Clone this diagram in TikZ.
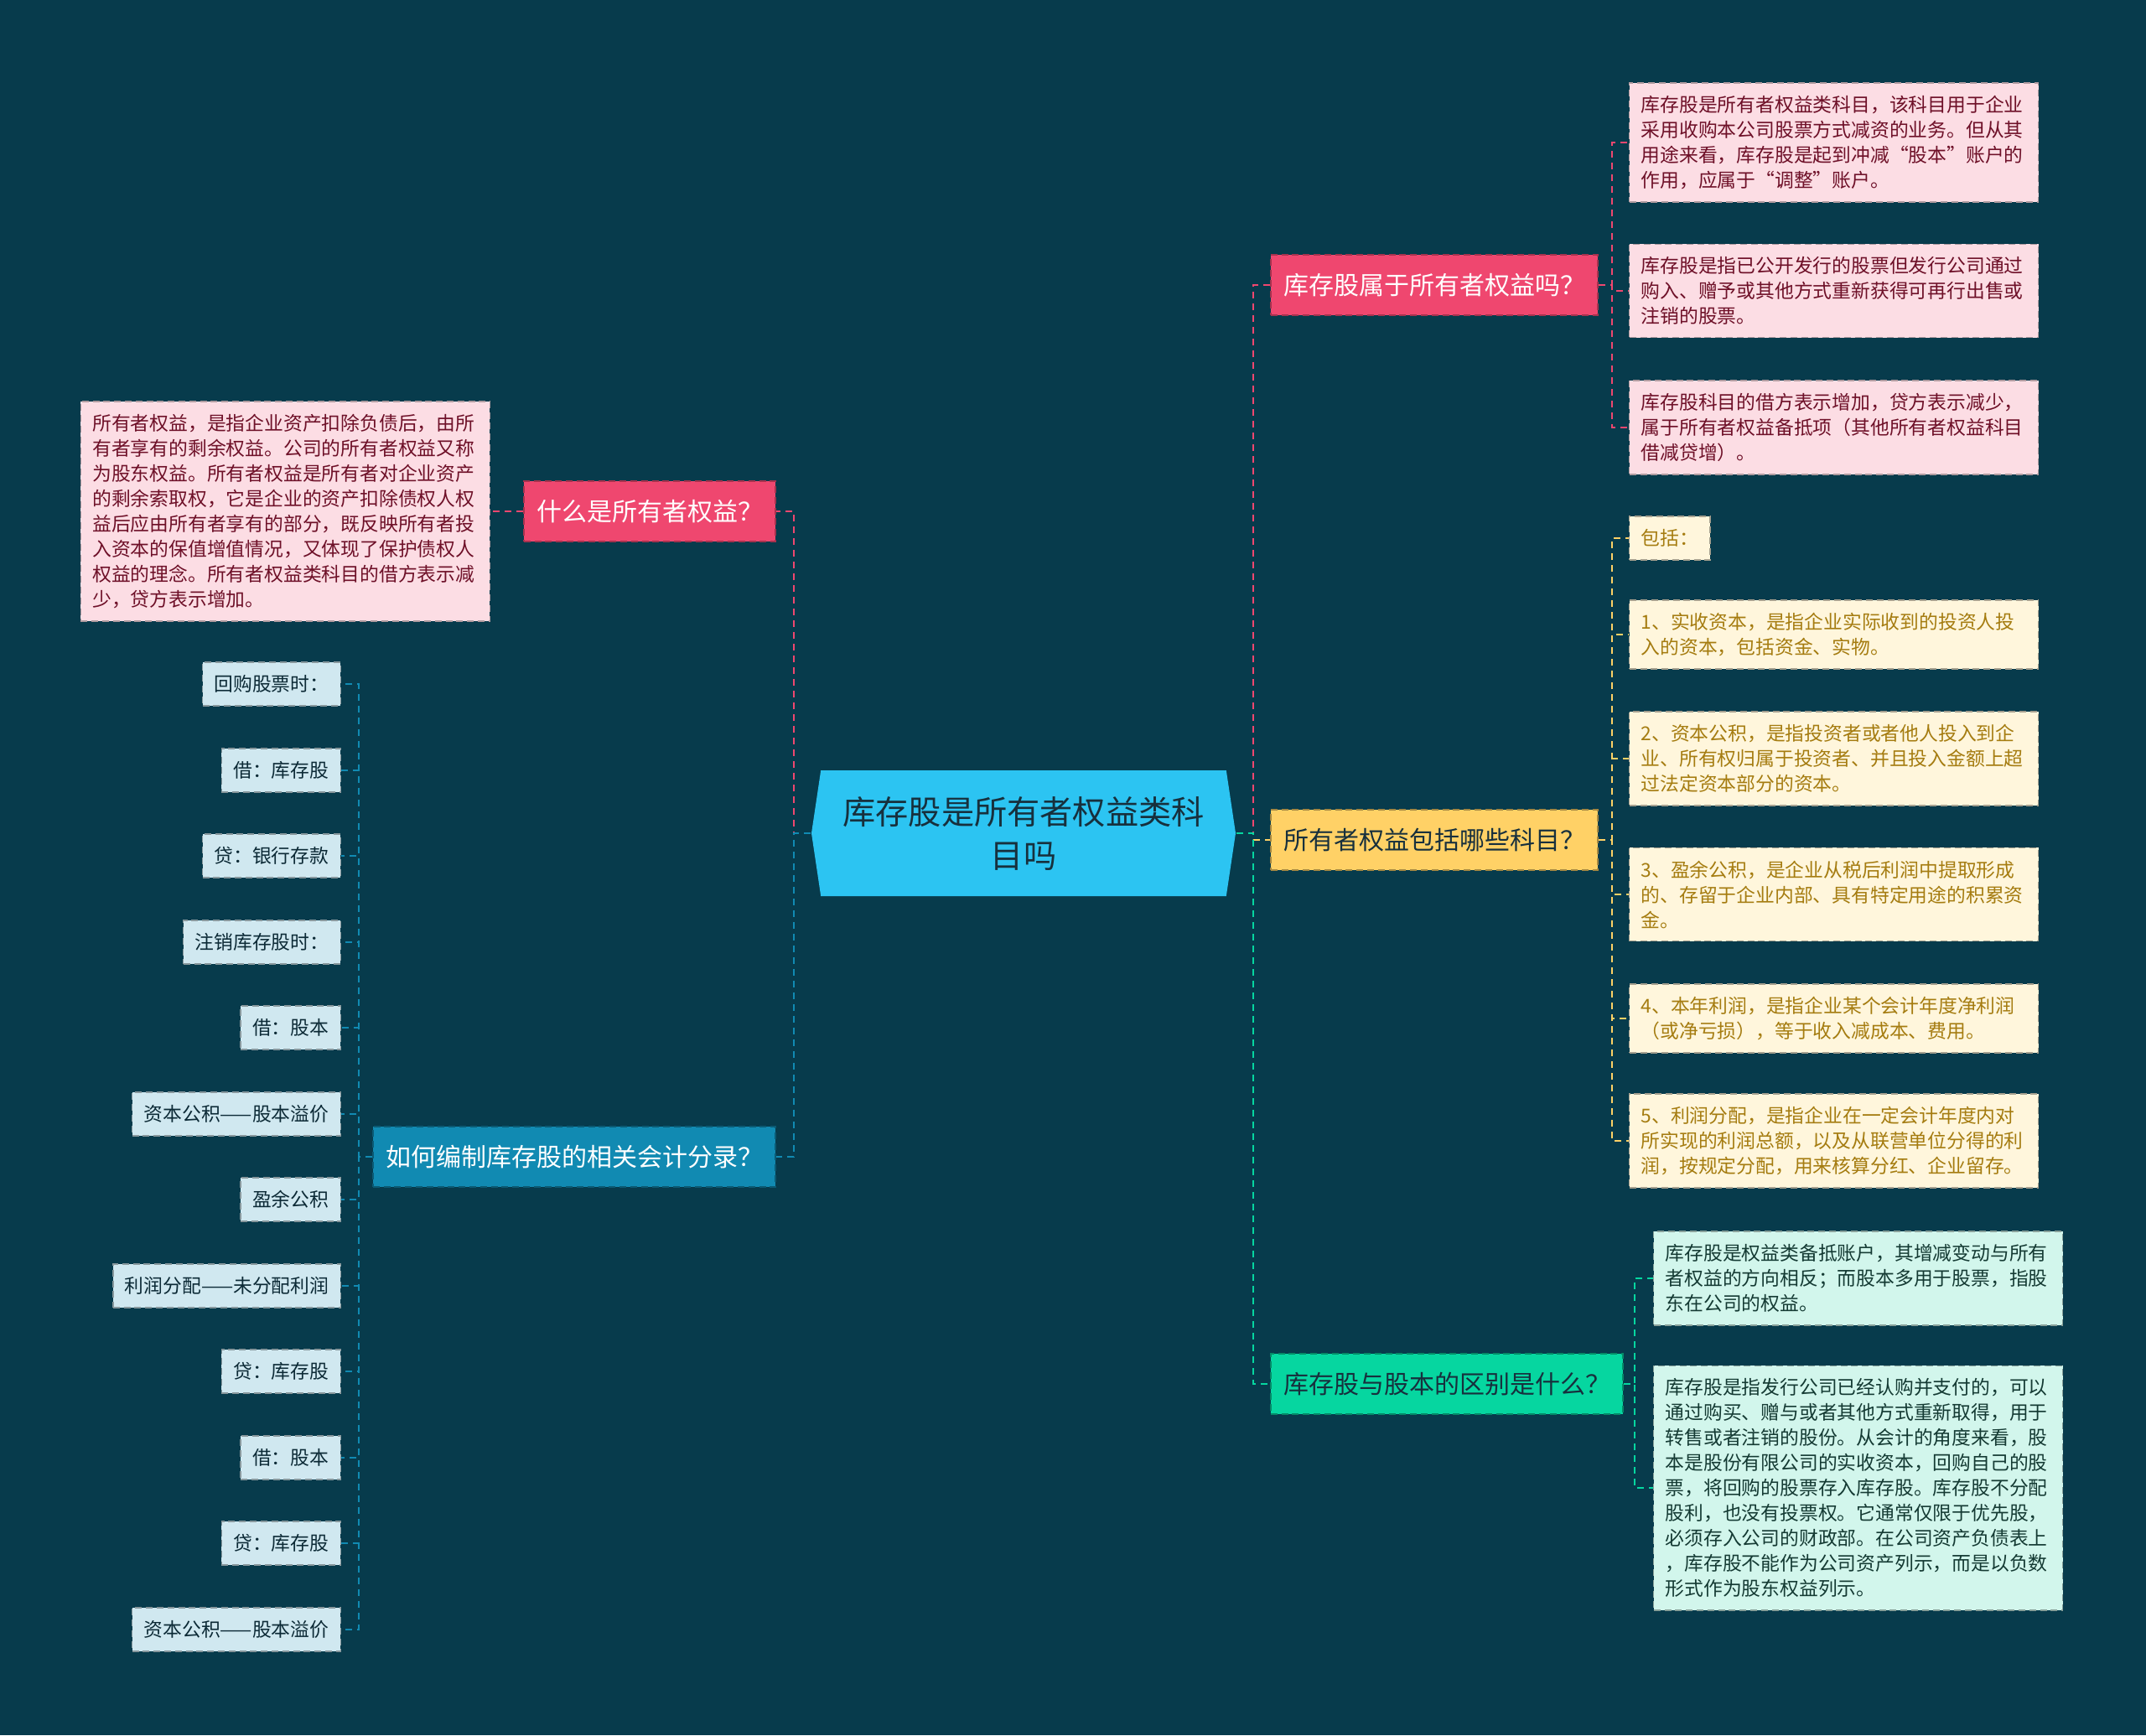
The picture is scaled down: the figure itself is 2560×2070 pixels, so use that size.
\documentclass[tikz,border=0pt]{standalone}
\usepackage{xcolor}
\usepackage{fontspec}
\setmainfont{Noto Sans CJK SC}
\usepackage{tikz}
\usetikzlibrary{shapes.symbols}

\definecolor{bgdark}{HTML}{073B4C}
\definecolor{rootblue}{HTML}{2CC4F2}
\definecolor{roottext}{HTML}{17303D}
\definecolor{qpink}{HTML}{EF476F}
\definecolor{qgold}{HTML}{FFD166}
\definecolor{qmint}{HTML}{06D6A0}
\definecolor{qblue}{HTML}{118AB2}
\definecolor{lpink}{HTML}{FCDDE4}
\definecolor{lgold}{HTML}{FFF6DC}
\definecolor{lmint}{HTML}{D2F6EC}
\definecolor{lblue}{HTML}{D0E8F0}
\definecolor{tpink}{HTML}{6E1028}
\definecolor{tgold}{HTML}{A57C10}
\definecolor{tmint}{HTML}{143A33}
\definecolor{tblue}{HTML}{0C2A36}

\tikzset{
  root/.style={signal, signal to=east and west, signal pointer angle=163,
    fill=rootblue, text=roottext, minimum width=126.5pt, minimum height=37.5pt,
    inner sep=0pt, align=center, font=\fontsize{9.8pt}{13pt}\selectfont},
  branch/.style={draw, dash pattern=on 2pt off 1.2pt, line width=0.4pt,
    minimum height=18pt, inner xsep=3.8pt, font=\fontsize{7.5pt}{9pt}\selectfont},
  pinkq/.style={branch, fill=qpink, draw=qpink!70!black, text=white},
  goldq/.style={branch, fill=qgold, draw=qgold!65!black, text=roottext},
  mintq/.style={branch, fill=qmint, draw=qmint!65!black, text=roottext},
  blueq/.style={branch, fill=qblue, draw=qblue!65!black, text=white},
  leaf/.style={draw, dash pattern=on 2pt off 1.2pt, line width=0.35pt,
    align=left, text width=115pt, inner xsep=3.5pt, inner ysep=3.8pt,
    font=\fontsize{5.7pt}{7.5pt}\selectfont},
  tag/.style={draw, dash pattern=on 2pt off 1.2pt, line width=0.35pt,
    minimum height=13pt, inner xsep=3.5pt, font=\fontsize{5.7pt}{7.5pt}\selectfont},
  pinkleaf/.style={leaf, fill=lpink, draw=lpink!70!black, text=tpink},
  goldleaf/.style={leaf, fill=lgold, draw=lgold!65!black, text=tgold},
  goldtag/.style={tag, fill=lgold, draw=lgold!65!black, text=tgold},
  mintleaf/.style={leaf, fill=lmint, draw=lmint!65!black, text=tmint},
  bluetag/.style={tag, fill=lblue, draw=lblue!65!black, text=tblue},
  link/.style={dash pattern=on 2pt off 1.5pt, line width=0.5pt}
}

\begin{document}
\begin{tikzpicture}[x=0.25pt, y=-0.25pt]
    \useasboundingbox (0,0) rectangle (2560,2070);
    \fill[bgdark] (0,0) rectangle (2560,2070);

    \node[root] (root) at (1221,994) {库存股是所有者权益类科\\目吗};

    \node[pinkq, anchor=west] (own) at (1515,340) {库存股属于所有者权益吗？};
    \node[goldq, anchor=west] (incl) at (1515,1002) {所有者权益包括哪些科目？};
    \node[mintq, anchor=west] (diff) at (1515,1651) {库存股与股本的区别是什么？};
    \node[pinkq, anchor=east] (what) at (926,610) {什么是所有者权益？};
    \node[blueq, anchor=east] (entry) at (926,1380) {如何编制库存股的相关会计分录？};

    \node[pinkleaf, anchor=west] (own1) at (1943,170) {库存股是所有者权益类科目，该科目用于企业\\采用收购本公司股票方式减资的业务。但从其\\用途来看，库存股是起到冲减“股本”账户的\\作用，应属于“调整”账户。};
    \node[pinkleaf, anchor=west] (own2) at (1943,347) {库存股是指已公开发行的股票但发行公司通过\\购入、赠予或其他方式重新获得可再行出售或\\注销的股票。};
    \node[pinkleaf, anchor=west] (own3) at (1943,510) {库存股科目的借方表示增加，贷方表示减少，\\属于所有者权益备抵项（其他所有者权益科目\\借减贷增）。};

    \node[goldtag, anchor=west] (incl0) at (1943,642) {包括：};
    \node[goldleaf, anchor=west] (incl1) at (1943,757) {1、实收资本，是指企业实际收到的投资人投\\入的资本，包括资金、实物。};
    \node[goldleaf, anchor=west] (incl2) at (1943,905) {2、资本公积，是指投资者或者他人投入到企\\业、所有权归属于投资者、并且投入金额上超\\过法定资本部分的资本。};
    \node[goldleaf, anchor=west] (incl3) at (1943,1067) {3、盈余公积，是企业从税后利润中提取形成\\的、存留于企业内部、具有特定用途的积累资\\金。};
    \node[goldleaf, anchor=west] (incl4) at (1943,1215) {4、本年利润，是指企业某个会计年度净利润\\（或净亏损），等于收入减成本、费用。};
    \node[goldleaf, anchor=west] (incl5) at (1943,1361) {5、利润分配，是指企业在一定会计年度内对\\所实现的利润总额，以及从联营单位分得的利\\润，按规定分配，用来核算分红、企业留存。};

    \node[mintleaf, anchor=west] (diff1) at (1972,1525) {库存股是权益类备抵账户，其增减变动与所有\\者权益的方向相反；而股本多用于股票，指股\\东在公司的权益。};
    \node[mintleaf, anchor=west] (diff2) at (1972,1775) {库存股是指发行公司已经认购并支付的，可以\\通过购买、赠与或者其他方式重新取得，用于\\转售或者注销的股份。从会计的角度来看，股\\本是股份有限公司的实收资本，回购自己的股\\票，将回购的股票存入库存股。库存股不分配\\股利，也没有投票权。它通常仅限于优先股，\\必须存入公司的财政部。在公司资产负债表上\\，库存股不能作为公司资产列示，而是以负数\\形式作为股东权益列示。};

    \node[pinkleaf, anchor=east] (what1) at (585,610) {所有者权益，是指企业资产扣除负债后，由所\\有者享有的剩余权益。公司的所有者权益又称\\为股东权益。所有者权益是所有者对企业资产\\的剩余索取权，它是企业的资产扣除债权人权\\益后应由所有者享有的部分，既反映所有者投\\入资本的保值增值情况，又体现了保护债权人\\权益的理念。所有者权益类科目的借方表示减\\少，贷方表示增加。};

    \node[bluetag, anchor=east] (e1) at (407,816) {回购股票时：};
    \node[bluetag, anchor=east] (e2) at (407,919) {借：库存股};
    \node[bluetag, anchor=east] (e3) at (407,1021) {贷：银行存款};
    \node[bluetag, anchor=east] (e4) at (407,1124) {注销库存股时：};
    \node[bluetag, anchor=east] (e5) at (407,1226) {借：股本};
    \node[bluetag, anchor=east] (e6) at (407,1329) {资本公积——股本溢价};
    \node[bluetag, anchor=east] (e7) at (407,1431) {盈余公积};
    \node[bluetag, anchor=east] (e8) at (407,1534) {利润分配——未分配利润};
    \node[bluetag, anchor=east] (e9) at (407,1636) {贷：库存股};
    \node[bluetag, anchor=east] (e10) at (407,1739) {借：股本};
    \node[bluetag, anchor=east] (e11) at (407,1841) {贷：库存股};
    \node[bluetag, anchor=east] (e12) at (407,1944) {资本公积——股本溢价};

    \coordinate (rj) at (1495,994);
    \coordinate (lj) at (947,994);
    \coordinate (ownj) at (1923,340);
    \coordinate (inclj) at (1923,1002);
    \coordinate (diffj) at (1950,1651);
    \coordinate (entryj) at (428,1380);

    \draw[link, qpink] (root.east) -- (rj) |- (own.west);
    \draw[link, qgold] (root.east) -- (rj) |- (incl.west);
    \draw[link, qmint] (root.east) -- (rj) |- (diff.west);
    \draw[link, qpink] (root.west) -- (lj) |- (what.east);
    \draw[link, qblue] (root.west) -- (lj) |- (entry.east);

    \draw[link, qpink] (own.east) -- (ownj) |- (own1.west);
    \draw[link, qpink] (own.east) -- (ownj) |- (own2.west);
    \draw[link, qpink] (own.east) -- (ownj) |- (own3.west);

    \draw[link, qgold] (incl.east) -- (inclj) |- (incl0.west);
    \draw[link, qgold] (incl.east) -- (inclj) |- (incl1.west);
    \draw[link, qgold] (incl.east) -- (inclj) |- (incl2.west);
    \draw[link, qgold] (incl.east) -- (inclj) |- (incl3.west);
    \draw[link, qgold] (incl.east) -- (inclj) |- (incl4.west);
    \draw[link, qgold] (incl.east) -- (inclj) |- (incl5.west);

    \draw[link, qmint] (diff.east) -- (diffj) |- (diff1.west);
    \draw[link, qmint] (diff.east) -- (diffj) |- (diff2.west);

    \draw[link, qpink] (what.west) -- (what1.east);

    \draw[link, qblue] (entry.west) -- (entryj) |- (e1.east);
    \draw[link, qblue] (entry.west) -- (entryj) |- (e2.east);
    \draw[link, qblue] (entry.west) -- (entryj) |- (e3.east);
    \draw[link, qblue] (entry.west) -- (entryj) |- (e4.east);
    \draw[link, qblue] (entry.west) -- (entryj) |- (e5.east);
    \draw[link, qblue] (entry.west) -- (entryj) |- (e6.east);
    \draw[link, qblue] (entry.west) -- (entryj) |- (e7.east);
    \draw[link, qblue] (entry.west) -- (entryj) |- (e8.east);
    \draw[link, qblue] (entry.west) -- (entryj) |- (e9.east);
    \draw[link, qblue] (entry.west) -- (entryj) |- (e10.east);
    \draw[link, qblue] (entry.west) -- (entryj) |- (e11.east);
    \draw[link, qblue] (entry.west) -- (entryj) |- (e12.east);
\end{tikzpicture}
\end{document}
